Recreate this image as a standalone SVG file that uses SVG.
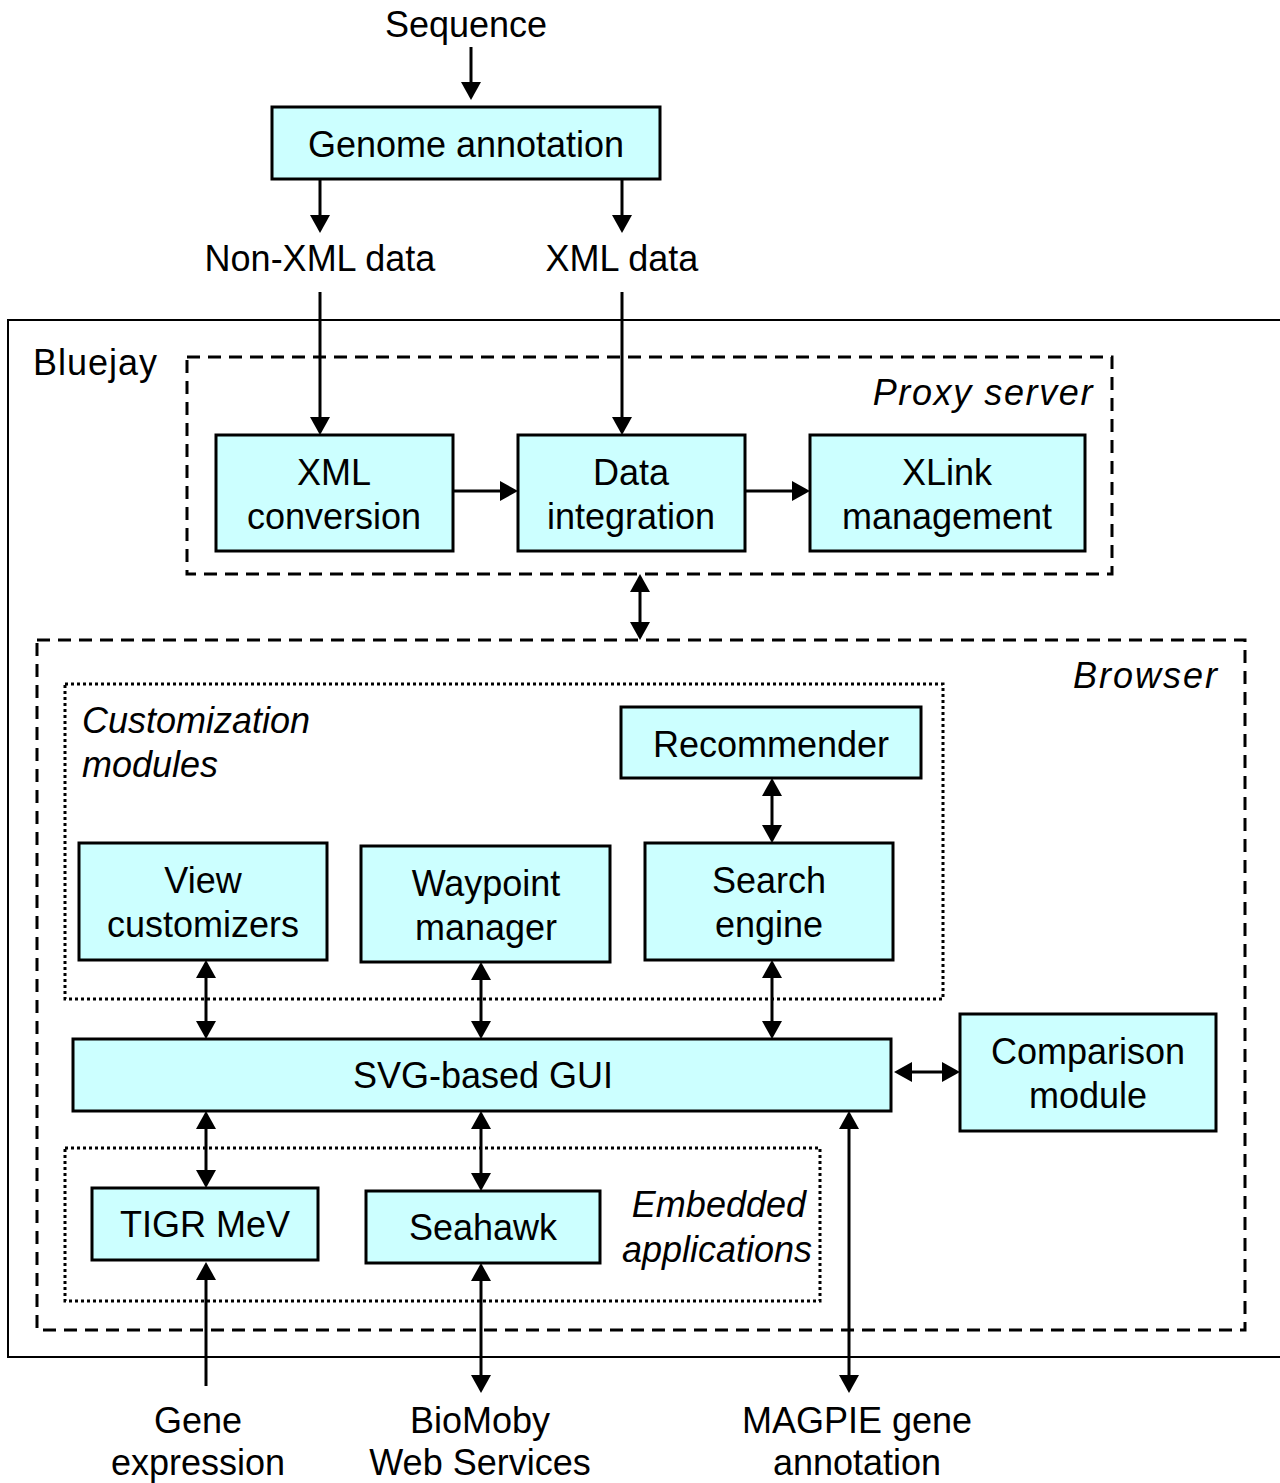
<svg xmlns="http://www.w3.org/2000/svg" width="1280" height="1483" viewBox="0 0 1280 1483">
<style>
  text { font-family: "Liberation Sans", Arial, sans-serif; font-size: 36px; fill: #000; }
  .c { text-anchor: middle; }
  .it { font-style: italic; }
  .r { text-anchor: end; }
  .box { fill: #CCFFFF; stroke: #000; stroke-width: 3; }
  .dash { fill: none; stroke: #000; stroke-width: 3; stroke-dasharray: 13 8; }
  .dot { fill: none; stroke: #000; stroke-width: 3; stroke-dasharray: 3 3; }
  .edge { fill: none; stroke: #000; stroke-width: 3; }
</style>
<defs>
  <marker id="ah" viewBox="0 0 18 20" refX="12" refY="10" markerWidth="18" markerHeight="20" markerUnits="userSpaceOnUse" orient="auto-start-reverse">
    <path d="M0,0 L18,10 L0,20 Z" fill="#000"/>
  </marker>
</defs>
<rect width="1280" height="1483" fill="#fff"/>

<g id="bluejay">
  <rect x="8" y="320" width="1290" height="1037" fill="none" stroke="#000" stroke-width="2"/>
  <text x="33" y="375" style="letter-spacing:1px">Bluejay</text>
</g>
<g id="proxy-server">
  <rect class="dash" x="187" y="357" width="925" height="217"/>
  <text class="it r" x="1094" y="405" style="letter-spacing:1.6px">Proxy server</text>
</g>
<g id="browser">
  <rect class="dash" x="37" y="640" width="1208" height="690"/>
  <text class="it r" x="1219" y="688" style="letter-spacing:2px">Browser</text>
</g>
<g id="customization-modules">
  <rect class="dot" x="65" y="684" width="878" height="315"/>
  <text class="it" x="82" y="733">Customization</text>
  <text class="it" x="82" y="777">modules</text>
</g>
<g id="embedded-applications">
  <rect class="dot" x="65" y="1148" width="755" height="153"/>
  <text class="it r" x="806" y="1217">Embedded</text>
  <text class="it r" x="812" y="1262">applications</text>
</g>

<g id="sequence"><text class="c" x="466" y="37">Sequence</text></g>
<g id="genome-annotation">
  <rect class="box" x="272" y="107" width="388" height="72"/>
  <text class="c" x="466" y="157">Genome annotation</text>
</g>
<g id="non-xml-data"><text class="c" x="320" y="271">Non-XML data</text></g>
<g id="xml-data"><text class="c" x="622" y="271">XML data</text></g>

<g id="xml-conversion">
  <rect class="box" x="216" y="435" width="237" height="116"/>
  <text class="c" x="334" y="485">XML</text>
  <text class="c" x="334" y="529">conversion</text>
</g>
<g id="data-integration">
  <rect class="box" x="518" y="435" width="227" height="116"/>
  <text class="c" x="631" y="485">Data</text>
  <text class="c" x="631" y="529">integration</text>
</g>
<g id="xlink-management">
  <rect class="box" x="810" y="435" width="275" height="116"/>
  <text class="c" x="947" y="485">XLink</text>
  <text class="c" x="947" y="529">management</text>
</g>

<g id="recommender">
  <rect class="box" x="621" y="707" width="300" height="71"/>
  <text class="c" x="771" y="757">Recommender</text>
</g>
<g id="view-customizers">
  <rect class="box" x="79" y="843" width="248" height="117"/>
  <text class="c" x="203" y="893">View</text>
  <text class="c" x="203" y="937">customizers</text>
</g>
<g id="waypoint-manager">
  <rect class="box" x="361" y="846" width="249" height="116"/>
  <text class="c" x="486" y="896">Waypoint</text>
  <text class="c" x="486" y="940">manager</text>
</g>
<g id="search-engine">
  <rect class="box" x="645" y="843" width="248" height="117"/>
  <text class="c" x="769" y="893">Search</text>
  <text class="c" x="769" y="937">engine</text>
</g>
<g id="svg-based-gui">
  <rect class="box" x="73" y="1039" width="818" height="72"/>
  <text class="c" x="483" y="1088">SVG-based GUI</text>
</g>
<g id="comparison-module">
  <rect class="box" x="960" y="1014" width="256" height="117"/>
  <text class="c" x="1088" y="1064">Comparison</text>
  <text class="c" x="1088" y="1108">module</text>
</g>
<g id="tigr-mev">
  <rect class="box" x="92" y="1188" width="226" height="72"/>
  <text class="c" x="205" y="1237">TIGR MeV</text>
</g>
<g id="seahawk">
  <rect class="box" x="366" y="1191" width="234" height="72"/>
  <text class="c" x="483" y="1240">Seahawk</text>
</g>

<g id="gene-expression">
  <text class="c" x="198" y="1433">Gene</text>
  <text class="c" x="198" y="1475">expression</text>
</g>
<g id="biomoby">
  <text class="c" x="480" y="1433">BioMoby</text>
  <text class="c" x="480" y="1475">Web Services</text>
</g>
<g id="magpie">
  <text class="c" x="857" y="1433">MAGPIE gene</text>
  <text class="c" x="857" y="1475">annotation</text>
</g>

<g id="connectors" class="edge">
  <line x1="471" y1="47" x2="471" y2="94" marker-end="url(#ah)"/>
  <line x1="320" y1="179" x2="320" y2="227" marker-end="url(#ah)"/>
  <line x1="622" y1="179" x2="622" y2="227" marker-end="url(#ah)"/>
  <line x1="320" y1="292" x2="320" y2="429" marker-end="url(#ah)"/>
  <line x1="622" y1="292" x2="622" y2="429" marker-end="url(#ah)"/>
  <line x1="453" y1="491" x2="512" y2="491" marker-end="url(#ah)"/>
  <line x1="745" y1="491" x2="804" y2="491" marker-end="url(#ah)"/>
  <line x1="640" y1="580" x2="640" y2="634" marker-start="url(#ah)" marker-end="url(#ah)"/>
  <line x1="772" y1="784" x2="772" y2="837" marker-start="url(#ah)" marker-end="url(#ah)"/>
  <line x1="206" y1="966" x2="206" y2="1033" marker-start="url(#ah)" marker-end="url(#ah)"/>
  <line x1="481" y1="968" x2="481" y2="1033" marker-start="url(#ah)" marker-end="url(#ah)"/>
  <line x1="772" y1="966" x2="772" y2="1033" marker-start="url(#ah)" marker-end="url(#ah)"/>
  <line x1="900" y1="1072" x2="954" y2="1072" marker-start="url(#ah)" marker-end="url(#ah)"/>
  <line x1="206" y1="1117" x2="206" y2="1182" marker-start="url(#ah)" marker-end="url(#ah)"/>
  <line x1="481" y1="1117" x2="481" y2="1185" marker-start="url(#ah)" marker-end="url(#ah)"/>
  <line x1="206" y1="1386" x2="206" y2="1268" marker-end="url(#ah)"/>
  <line x1="481" y1="1269" x2="481" y2="1387" marker-start="url(#ah)" marker-end="url(#ah)"/>
  <line x1="849" y1="1117" x2="849" y2="1387" marker-start="url(#ah)" marker-end="url(#ah)"/>
</g>
</svg>
